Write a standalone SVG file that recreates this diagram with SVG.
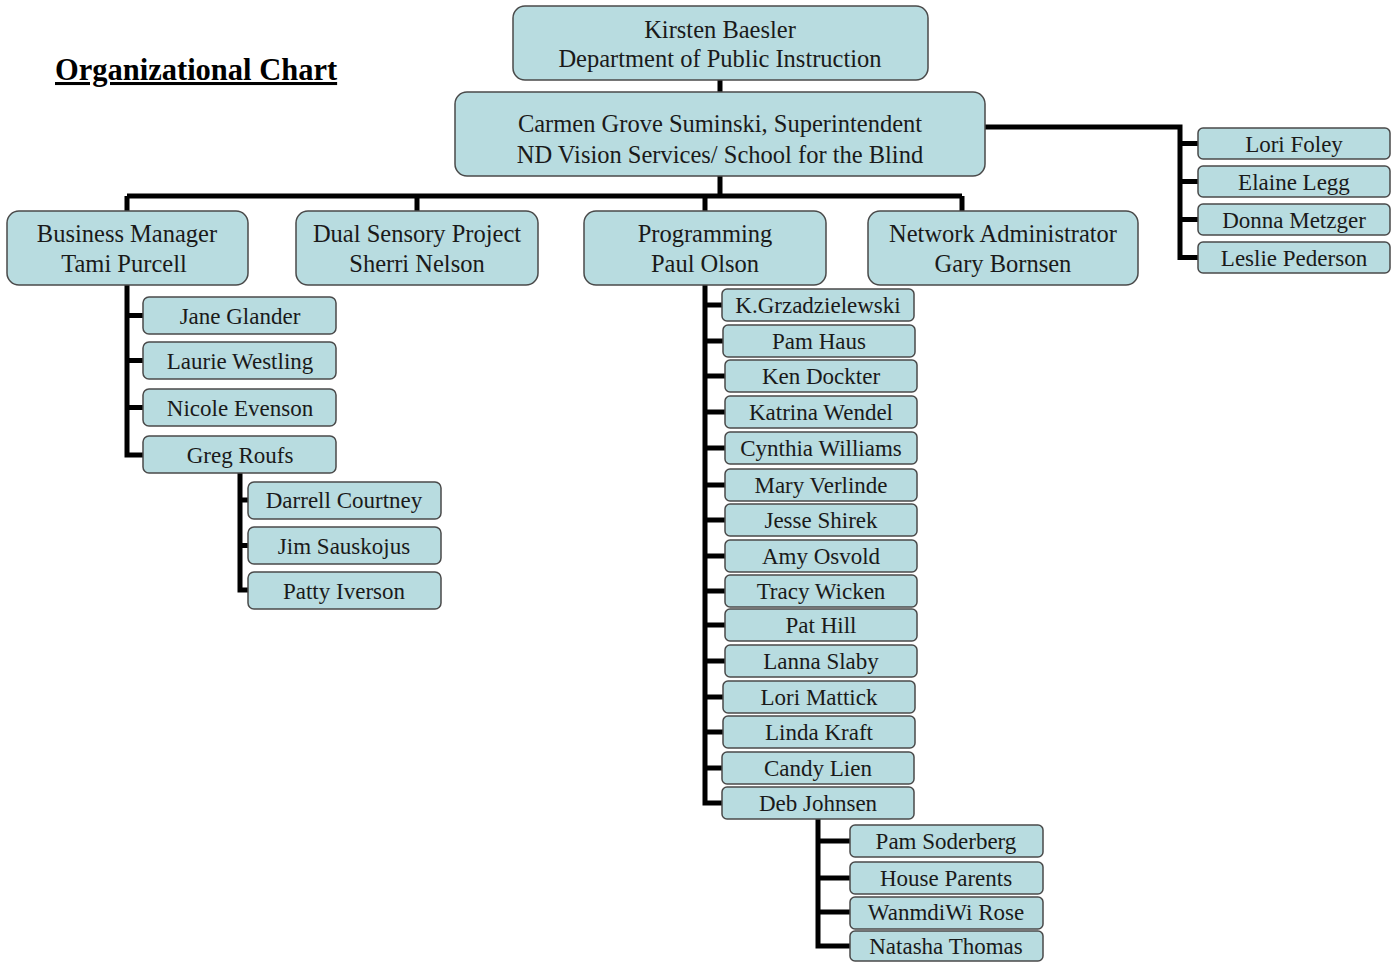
<svg xmlns="http://www.w3.org/2000/svg" width="1398" height="962" viewBox="0 0 1398 962">
<style>
.bx{fill:#b8dce0;stroke:#4a4a4a;stroke-width:1.5}
.t{font-family:"Liberation Serif","Times New Roman",serif;font-size:23px;fill:#1a1a1a;text-anchor:middle}
.tb{font-family:"Liberation Serif","Times New Roman",serif;font-size:24.5px;fill:#1a1a1a;text-anchor:middle}
.c{fill:none;stroke:#000;stroke-width:5;stroke-linejoin:miter;stroke-linecap:butt}
</style>
<rect width="1398" height="962" fill="#fff"/>
<text x="55" y="80" font-family="Liberation Serif, Times New Roman, serif" font-size="30.5" font-weight="bold" text-decoration="underline" fill="#000">Organizational Chart</text>
<g id="connectors" class="c">
<path d="M720,80V92M720,176V196M127,196H962M127,196V211M417,196V211M705,196V211M962,196V211"/>
<path d="M985,127H1180V257.5H1198M1180,143.5H1198M1180,181.5H1198M1180,219.5H1198"/>
<path d="M127,285V455H143M127,315.5H143M127,360.5H143M127,407.5H143"/>
<path d="M240,473V590H248M240,500H248M240,545.5H248"/>
<path d="M705,285V803H722M705,305H722M705,341H723M705,376H725M705,412H725M705,448H725M705,485H725M705,520H725M705,556H725M705,591H725M705,625H725M705,661H725M705,697H723M705,732H723M705,768H722"/>
<path d="M818,819V946H850M818,841H850M818,878H850M818,912H850"/>
</g>
<g id="n-kirsten"><rect class="bx" x="513" y="6" width="415" height="74" rx="12"/><text class="tb" x="720" y="38">Kirsten Baesler</text><text class="tb" x="720" y="67">Department of Public Instruction</text></g>
<g id="n-carmen"><rect class="bx" x="455" y="92" width="530" height="84" rx="12"/><text class="tb" x="720" y="132">Carmen Grove Suminski, Superintendent</text><text class="tb" x="720" y="163">ND Vision Services/ School for the Blind</text></g>
<g id="n-business"><rect class="bx" x="7" y="211" width="241" height="74" rx="12"/><text class="tb" x="127" y="242">Business Manager</text><text class="tb" x="124" y="272">Tami Purcell</text></g>
<g id="n-dual"><rect class="bx" x="296" y="211" width="242" height="74" rx="12"/><text class="tb" x="417" y="242">Dual Sensory Project</text><text class="tb" x="417" y="272">Sherri Nelson</text></g>
<g id="n-programming"><rect class="bx" x="584" y="211" width="242" height="74" rx="12"/><text class="tb" x="705" y="242">Programming</text><text class="tb" x="705" y="272">Paul Olson</text></g>
<g id="n-network"><rect class="bx" x="868" y="211" width="270" height="74" rx="12"/><text class="tb" x="1003" y="242">Network Administrator</text><text class="tb" x="1003" y="272">Gary Bornsen</text></g>
<g id="n-lori-foley"><rect class="bx" x="1198" y="128" width="192" height="31" rx="5"/><text class="t" x="1294" y="151.5">Lori Foley</text></g>
<g id="n-elaine"><rect class="bx" x="1198" y="166" width="192" height="31" rx="5"/><text class="t" x="1294" y="189.5">Elaine Legg</text></g>
<g id="n-donna"><rect class="bx" x="1198" y="204" width="192" height="31" rx="5"/><text class="t" x="1294" y="227.5">Donna Metzger</text></g>
<g id="n-leslie"><rect class="bx" x="1198" y="242" width="192" height="31" rx="5"/><text class="t" x="1294" y="265.5">Leslie Pederson</text></g>
<g id="n-jane"><rect class="bx" x="143" y="297" width="193" height="37" rx="6"/><text class="t" x="240" y="323.5">Jane Glander</text></g>
<g id="n-laurie"><rect class="bx" x="143" y="342" width="193" height="37" rx="6"/><text class="t" x="240" y="368.5">Laurie Westling</text></g>
<g id="n-nicole"><rect class="bx" x="143" y="389" width="193" height="37" rx="6"/><text class="t" x="240" y="415.5">Nicole Evenson</text></g>
<g id="n-greg"><rect class="bx" x="143" y="436" width="193" height="37" rx="6"/><text class="t" x="240" y="462.5">Greg Roufs</text></g>
<g id="n-darrell"><rect class="bx" x="248" y="482" width="193" height="37" rx="6"/><text class="t" x="344" y="508">Darrell Courtney</text></g>
<g id="n-jim"><rect class="bx" x="248" y="527" width="193" height="37" rx="6"/><text class="t" x="344" y="553.5">Jim Sauskojus</text></g>
<g id="n-patty"><rect class="bx" x="248" y="572" width="193" height="37" rx="6"/><text class="t" x="344" y="598.5">Patty Iverson</text></g>
<g id="n-k"><rect class="bx" x="722" y="289" width="192" height="32" rx="5"/><text class="t" x="818" y="313">K.Grzadzielewski</text></g>
<g id="n-pam-haus"><rect class="bx" x="723" y="325" width="192" height="32" rx="5"/><text class="t" x="819" y="349">Pam Haus</text></g>
<g id="n-ken"><rect class="bx" x="725" y="360" width="192" height="32" rx="5"/><text class="t" x="821" y="384">Ken Dockter</text></g>
<g id="n-katrina"><rect class="bx" x="725" y="396" width="192" height="32" rx="5"/><text class="t" x="821" y="420">Katrina Wendel</text></g>
<g id="n-cynthia"><rect class="bx" x="725" y="432" width="192" height="32" rx="5"/><text class="t" x="821" y="456">Cynthia Williams</text></g>
<g id="n-mary"><rect class="bx" x="725" y="469" width="192" height="32" rx="5"/><text class="t" x="821" y="493">Mary Verlinde</text></g>
<g id="n-jesse"><rect class="bx" x="725" y="504" width="192" height="32" rx="5"/><text class="t" x="821" y="528">Jesse Shirek</text></g>
<g id="n-amy"><rect class="bx" x="725" y="540" width="192" height="32" rx="5"/><text class="t" x="821" y="564">Amy Osvold</text></g>
<g id="n-tracy"><rect class="bx" x="725" y="575" width="192" height="32" rx="5"/><text class="t" x="821" y="599">Tracy Wicken</text></g>
<g id="n-pat"><rect class="bx" x="725" y="609" width="192" height="32" rx="5"/><text class="t" x="821" y="633">Pat Hill</text></g>
<g id="n-lanna"><rect class="bx" x="725" y="645" width="192" height="32" rx="5"/><text class="t" x="821" y="669">Lanna Slaby</text></g>
<g id="n-lori-mattick"><rect class="bx" x="723" y="681" width="192" height="32" rx="5"/><text class="t" x="819" y="705">Lori Mattick</text></g>
<g id="n-linda"><rect class="bx" x="723" y="716" width="192" height="32" rx="5"/><text class="t" x="819" y="740">Linda Kraft</text></g>
<g id="n-candy"><rect class="bx" x="722" y="752" width="192" height="32" rx="5"/><text class="t" x="818" y="776">Candy Lien</text></g>
<g id="n-deb"><rect class="bx" x="722" y="787" width="192" height="32" rx="5"/><text class="t" x="818" y="811">Deb Johnsen</text></g>
<g id="n-pam-soderberg"><rect class="bx" x="850" y="825" width="193" height="32" rx="5"/><text class="t" x="946" y="849">Pam Soderberg</text></g>
<g id="n-house"><rect class="bx" x="850" y="862" width="193" height="32" rx="5"/><text class="t" x="946" y="886">House Parents</text></g>
<g id="n-wanmdiwi"><rect class="bx" x="850" y="897" width="193" height="32" rx="5"/><text class="t" x="946" y="920">WanmdiWi Rose</text></g>
<g id="n-natasha"><rect class="bx" x="850" y="931" width="193" height="30" rx="5"/><text class="t" x="946" y="954">Natasha Thomas</text></g>
</svg>
